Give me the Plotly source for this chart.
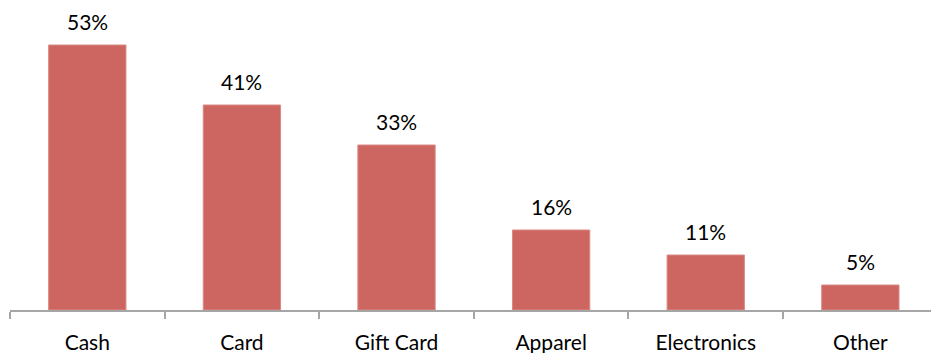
import plotly.graph_objects as go

categories = ["Cash", "Card", "Gift Card", "Apparel", "Electronics", "Other"]
values = [53, 41, 33, 16, 11, 5]
labels = ["53%", "41%", "33%", "16%", "11%", "5%"]

fig = go.Figure()
fig.add_trace(go.Bar(
    x=categories, y=values,
    marker=dict(color="#CD6660", line=dict(color="#D98A85", width=1)),
    width=0.5,
    hoverinfo="skip",
))
for c, v, t in zip(categories, values, labels):
    fig.add_annotation(x=c, y=v, text=t, showarrow=False, yanchor="bottom", yshift=9,
                       font=dict(family="Lato", size=21, color="#000000"))

fig.update_layout(
    width=931, height=353,
    margin=dict(l=10, r=0, t=0, b=43),
    paper_bgcolor="white", plot_bgcolor="white",
    showlegend=False,
    font=dict(family="Lato", size=21, color="#000000"),
    xaxis=dict(
        range=[-0.5, 5.457], showline=True, linecolor="#A6A6A6", linewidth=1.5,
        ticks="outside", tickson="boundaries", ticklen=7, tickcolor="#A6A6A6", tickwidth=1.5,
        ticklabelstandoff=13,
        showgrid=False, zeroline=False, tickfont=dict(family="Lato", size=21, color="#000000"),
        fixedrange=True,
    ),
    yaxis=dict(range=[0, 62], visible=False, showgrid=False, zeroline=False, fixedrange=True),
)
fig.write_html("out.html")
